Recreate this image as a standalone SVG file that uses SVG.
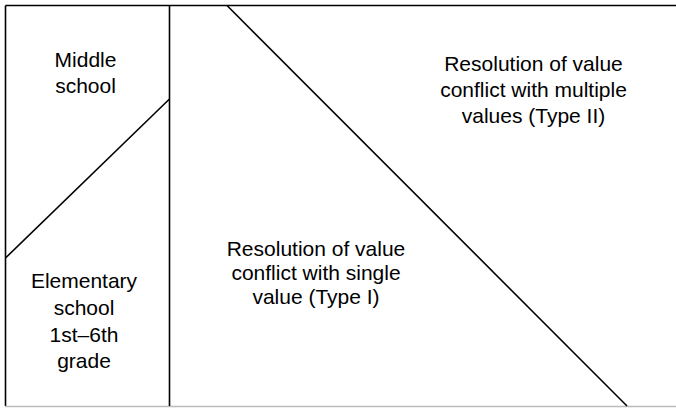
<svg xmlns="http://www.w3.org/2000/svg" width="676" height="408" viewBox="0 0 676 408">
<style>
.t{font-family:"Liberation Sans",Arial,sans-serif;font-size:21px;fill:#000;text-anchor:middle}
.l{stroke:#000;stroke-width:1.6;fill:none}
</style>
<rect width="676" height="408" fill="#fff"/>
<g id="connectors">
<line class="l" x1="5.5" y1="5.5" x2="676" y2="5.5"/>
<line class="l" x1="5.5" y1="5.5" x2="5.5" y2="406"/>
<line x1="5" y1="406.5" x2="676" y2="406.5" stroke="#bbb" stroke-width="1.5"/>
<line class="l" x1="169.5" y1="5.5" x2="169.5" y2="406"/>
<line class="l" x1="5.5" y1="258" x2="169.5" y2="99"/>
<line class="l" x1="227" y1="5.5" x2="627" y2="406"/>
</g>
<g id="middle"><text class="t"><tspan x="85.5" y="67">Middle</tspan><tspan x="85.5" y="93">school</tspan></text></g>
<g id="elementary"><text class="t"><tspan x="84" y="288">Elementary</tspan><tspan x="84" y="315">school</tspan><tspan x="84" y="342">1st–6th</tspan><tspan x="84" y="368">grade</tspan></text></g>
<g id="type1"><text class="t"><tspan x="316" y="256">Resolution of value</tspan><tspan x="316" y="280">conflict with single</tspan><tspan x="316" y="304">value (Type I)</tspan></text></g>
<g id="type2"><text class="t"><tspan x="533.5" y="71">Resolution of value</tspan><tspan x="533.5" y="97">conflict with multiple</tspan><tspan x="533.5" y="123">values (Type II)</tspan></text></g>
</svg>
